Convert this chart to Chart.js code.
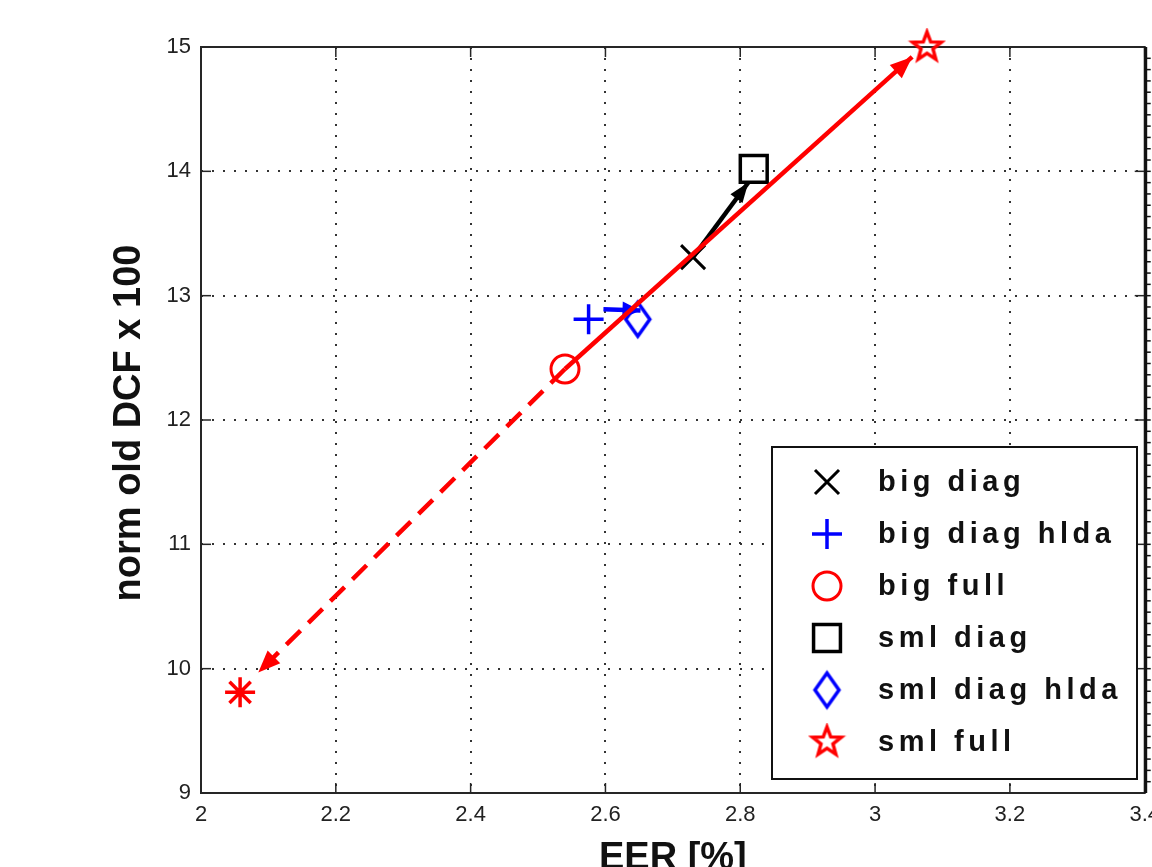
<!DOCTYPE html>
<html>
<head>
<meta charset="utf-8">
<script src="https://cdn.jsdelivr.net/npm/chart.js@4.4.0/dist/chart.umd.min.js"></script>
<style>
    html, body { margin: 0; padding: 0; background: #ffffff; overflow: hidden; }
    #wrap { width: 1152px; height: 867px; overflow: hidden; }
    #c { display: block; }
</style>
</head>
<body>
<div id="wrap"><canvas id="c" width="1152" height="867"></canvas></div>
<script>
    'use strict';

    // system results: EER [%] vs normalised old DCF (x100)
    var seriesNames = ['big diag', 'big diag hlda', 'big full', 'sml diag', 'sml diag hlda', 'sml full'];
    var eerValues = [2.73, 2.575, 2.54, 2.82, 2.648, 3.077];
    var dcfValues = [13.31, 12.81, 12.41, 14.02, 12.81, 15.0];

    // extra point (no legend entry)
    var extraEer = [2.058];
    var extraDcf = [9.81];

    // arrows between systems: start -> tip
    var arrowFromEer = [2.73, 2.597, 2.54, 2.54];
    var arrowFromDcf = [13.31, 12.89, 12.41, 12.41];
    var arrowToEer = [2.812, 2.652, 3.055, 2.085];
    var arrowToDcf = [13.91, 12.88, 14.92, 9.97];

    var xTickValues = [2, 2.2, 2.4, 2.6, 2.8, 3, 3.2, 3.4];
    var yTickValues = [9, 10, 11, 12, 13, 14, 15];
    var rightMinorPerUnit = 11;

    // the axes box runs off the right edge of the page
    var PAGE_W = 1152,
        PAGE_H = 867,
        AREA_RIGHT = 1145;

    var RED = '#ff0000',
        BLUE = '#0000ff',
        BLACK = '#000000',
        FONT = "'Liberation Sans', Arial, sans-serif";

    function pentagram(color, r, lw) {
        var size = Math.ceil(2 * r + 2 * lw + 2);
        var cv = document.createElement('canvas');
        cv.width = size;
        cv.height = size;
        var g = cv.getContext('2d');
        g.strokeStyle = color;
        g.lineWidth = lw;
        g.lineJoin = 'miter';
        g.beginPath();
        for (var i = 0; i < 10; i++) {
            var rr = i % 2 === 0 ? r : r * 0.42;
            var a = -Math.PI / 2 + i * Math.PI / 5;
            var px = size / 2 + rr * Math.cos(a),
                py = size / 2 + rr * Math.sin(a);
            if (i === 0) {
                g.moveTo(px, py);
            } else {
                g.lineTo(px, py);
            }
        }
        g.closePath();
        g.stroke();
        return cv;
    }

    function diamond(color, w, h, lw) {
        var cw = Math.ceil(w + 2 * lw + 2),
            ch = Math.ceil(h + 2 * lw + 2);
        var cv = document.createElement('canvas');
        cv.width = cw;
        cv.height = ch;
        var g = cv.getContext('2d');
        g.strokeStyle = color;
        g.lineWidth = lw;
        g.beginPath();
        g.moveTo(cw / 2, ch / 2 - h / 2);
        g.lineTo(cw / 2 + w / 2, ch / 2);
        g.lineTo(cw / 2, ch / 2 + h / 2);
        g.lineTo(cw / 2 - w / 2, ch / 2);
        g.closePath();
        g.stroke();
        return cv;
    }

    var markers = [
        { style: 'crossRot', radius: 17, color: BLACK, width: 3 },
        { style: 'cross', radius: 15, color: BLUE, width: 3.5 },
        { style: 'circle', radius: 14, color: RED, width: 3 },
        { style: 'rect', radius: 19, color: BLACK, width: 3.5 },
        { style: diamond(BLUE, 24, 34, 3.5), radius: 14, color: BLUE, width: 3.5 },
        { style: pentagram(RED, 15, 3.5), radius: 14, color: RED, width: 3.5 }
    ];

    var datasets = [];

    var arrowStyles = [
        { color: BLACK, width: 4.5, dash: [], order: 2, head: [20, 15] },
        { color: BLUE, width: 4.5, dash: [], order: 3, head: [18, 17] },
        { color: RED, width: 4.5, dash: [], order: 0, head: [22, 18] },
        { color: RED, width: 4.5, dash: [20, 11], order: 0, head: [22, 18] }
    ];
    arrowStyles.forEach(function(a, i) {
        datasets.push({
            data: [
                { x: arrowFromEer[i], y: arrowFromDcf[i] },
                { x: arrowToEer[i], y: arrowToDcf[i] }
            ],
            showLine: true,
            pointRadius: 0,
            borderColor: a.color,
            borderWidth: a.width,
            borderDash: a.dash,
            borderCapStyle: 'butt',
            order: a.order,
            clip: false,
            arrow: true,
            headLength: a.head[0],
            headWidth: a.head[1]
        });
    });

    seriesNames.forEach(function(name, i) {
        var m = markers[i];
        datasets.push({
            label: name,
            inLegend: true,
            data: [{ x: eerValues[i], y: dcfValues[i] }],
            pointStyle: m.style,
            pointRadius: m.radius,
            pointBorderWidth: m.width,
            borderColor: m.color,
            backgroundColor: 'rgba(0,0,0,0)',
            order: 1,
            clip: false
        });
    });

    datasets.push({
        data: extraEer.map(function(v, i) { return { x: v, y: extraDcf[i] }; }),
        pointStyle: 'star',
        pointRadius: 15,
        pointBorderWidth: 3.5,
        borderColor: RED,
        backgroundColor: 'rgba(0,0,0,0)',
        order: 1,
        clip: false
    });

    function strokeLine(ctx, x0, y0, x1, y1) {
        ctx.beginPath();
        ctx.moveTo(x0, y0);
        ctx.lineTo(x1, y1);
        ctx.stroke();
    }

    var framePlugin = {
        id: 'frame',
        beforeDatasetsDraw: function(chart) {
            var ctx = chart.ctx,
                area = chart.chartArea,
                xs = chart.scales.x,
                ys = chart.scales.y,
                tl = 10;
            ctx.save();
            ctx.strokeStyle = '#262626';
            ctx.lineWidth = 2;
            ctx.strokeRect(area.left, area.top, area.right - area.left, area.bottom - area.top);
            ctx.lineWidth = 1.5;
            xTickValues.forEach(function(v) {
                var px = xs.getPixelForValue(v);
                strokeLine(ctx, px, area.bottom, px, area.bottom - tl);
                strokeLine(ctx, px, area.top, px, area.top + tl);
            });
            yTickValues.forEach(function(v) {
                var py = ys.getPixelForValue(v);
                strokeLine(ctx, area.left, py, area.left + tl, py);
                strokeLine(ctx, area.right, py, area.right - tl, py);
            });

            // heavier right edge with small outward ticks
            ctx.strokeStyle = '#111';
            ctx.lineWidth = 3;
            strokeLine(ctx, area.right + 1, area.top, area.right + 1, area.bottom);
            ctx.lineWidth = 1.5;
            var n = (ys.max - ys.min) * rightMinorPerUnit;
            for (var k = 1; k < n; k++) {
                var py = area.top + (area.bottom - area.top) * k / n;
                strokeLine(ctx, area.right + 1, py, area.right + 6, py);
            }
            ctx.restore();
        },
        afterDatasetDraw: function(chart, args) {
            var ds = chart.data.datasets[args.index];
            if (!ds.arrow) {
                return;
            }
            var pts = args.meta.data,
                a = pts[0],
                b = pts[pts.length - 1],
                ang = Math.atan2(b.y - a.y, b.x - a.x),
                ctx = chart.ctx;
            ctx.save();
            ctx.fillStyle = ds.borderColor;
            ctx.translate(b.x, b.y);
            ctx.rotate(ang);
            ctx.beginPath();
            ctx.moveTo(0, 0);
            ctx.lineTo(-ds.headLength, -ds.headWidth / 2);
            ctx.lineTo(-ds.headLength, ds.headWidth / 2);
            ctx.closePath();
            ctx.fill();
            ctx.restore();
        },
        afterDraw: function(chart) {
            var ctx = chart.ctx,
                area = chart.chartArea;

            // axis titles
            ctx.save();
            ctx.fillStyle = '#111';
            ctx.font = 'bold 38px ' + FONT;
            ctx.textAlign = 'center';
            ctx.textBaseline = 'alphabetic';
            ctx.fillText('EER [%]', (area.left + area.right) / 2, 869);
            ctx.translate(140, (area.top + area.bottom) / 2 + 3);
            ctx.rotate(-Math.PI / 2);
            ctx.fillText('norm old DCF x 100', 0, 0);
            ctx.restore();

            // legend
            var box = { left: 772, top: 447, right: 1137, bottom: 779 },
                rowTop = 482,
                rowStep = 52,
                markX = 827,
                textX = 878;
            ctx.save();
            ctx.fillStyle = '#ffffff';
            ctx.fillRect(box.left, box.top, box.right - box.left, box.bottom - box.top);
            ctx.strokeStyle = '#111';
            ctx.lineWidth = 2;
            ctx.strokeRect(box.left, box.top, box.right - box.left, box.bottom - box.top);

            var row = 0;
            chart.data.datasets.forEach(function(ds) {
                if (!ds.inLegend) {
                    return;
                }
                var y = rowTop + row * rowStep;
                ctx.save();
                ctx.strokeStyle = ds.borderColor;
                ctx.fillStyle = 'rgba(0,0,0,0)';
                ctx.lineWidth = ds.pointBorderWidth;
                Chart.helpers.drawPoint(ctx, {
                    pointStyle: ds.pointStyle,
                    radius: ds.pointRadius,
                    rotation: 0,
                    borderWidth: ds.pointBorderWidth
                }, markX, y);
                ctx.restore();

                ctx.fillStyle = '#111';
                ctx.font = 'bold 29px ' + FONT;
                ctx.letterSpacing = '4.5px';
                ctx.textAlign = 'left';
                ctx.textBaseline = 'alphabetic';
                ctx.fillText(ds.label, textX, y + 9);
                row++;
            });
            ctx.restore();
        }
    };

    var tickFont = { family: FONT, size: 22 };

    var chart = new Chart(document.getElementById('c'), {
        type: 'scatter',
        data: { datasets: datasets },
        options: {
            responsive: false,
            maintainAspectRatio: false,
            animation: false,
            events: [],
            layout: { padding: { top: 47, right: 0, left: 0, bottom: 0 } },
            plugins: {
                legend: { display: false },
                tooltip: { enabled: false }
            },
            scales: {
                x: {
                    type: 'linear',
                    min: 2,
                    max: 3.4,
                    afterBuildTicks: function(s) {
                        s.ticks = xTickValues.map(function(v) { return { value: v }; });
                    },
                    afterFit: function(s) {
                        s.height = 74;
                    },
                    grid: { color: '#333333', lineWidth: 2, drawTicks: false },
                    border: { display: false, dash: [2, 9] },
                    ticks: {
                        font: tickFont,
                        color: '#222',
                        padding: 9,
                        maxRotation: 0,
                        autoSkip: false,
                        callback: function(v) { return String(v); }
                    }
                },
                y: {
                    type: 'linear',
                    min: 9,
                    max: 15,
                    afterBuildTicks: function(s) {
                        s.ticks = yTickValues.map(function(v) { return { value: v }; });
                    },
                    afterFit: function(s) {
                        s.width = 201;
                    },
                    grid: { color: '#333333', lineWidth: 2, drawTicks: false },
                    border: { display: false, dash: [2, 9] },
                    ticks: {
                        font: tickFont,
                        color: '#222',
                        padding: 10,
                        autoSkip: false,
                        callback: function(v) { return String(v); }
                    }
                }
            }
        },
        plugins: [framePlugin]
    });

    // widen the canvas past the page so the plot box ends where it should;
    // the last x label then gets cut by the page edge
    var canvasW = PAGE_W;
    for (var pass = 0; pass < 4; pass++) {
        var shift = AREA_RIGHT - chart.chartArea.right;
        if (Math.abs(shift) < 0.5) {
            break;
        }
        canvasW = Math.round(canvasW + shift);
        chart.resize(canvasW, PAGE_H);
    }
</script>
</body>
</html>
